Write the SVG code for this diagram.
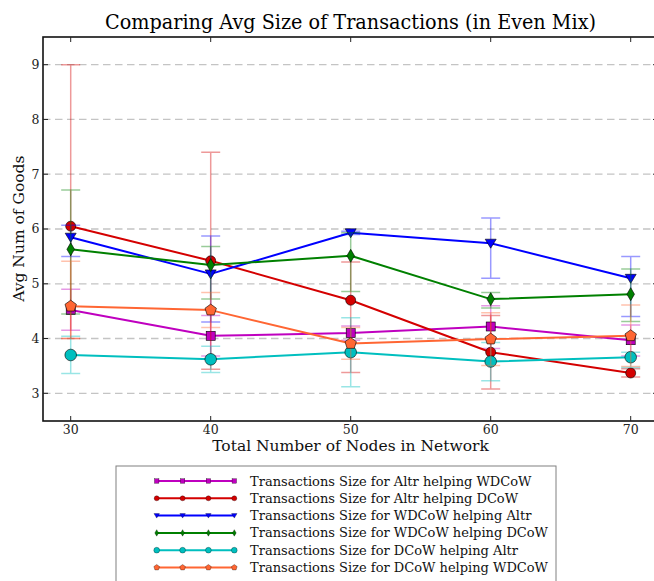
<svg xmlns="http://www.w3.org/2000/svg" xmlns:xlink="http://www.w3.org/1999/xlink" width="654" height="581" viewBox="0 0 654 581">
<style>
text{font-family:"DejaVu Serif","Liberation Serif",serif;fill:#222}
.title{font-size:20px;fill:#000}
.lab{font-size:15.5px;fill:#111}
.tick{font-size:12.5px}
.leg{font-size:13px;fill:#111}
.grid{stroke:#c4c4c4;stroke-width:1.3;stroke-dasharray:7.5,4.5;fill:none}
.spine{stroke:#111;stroke-width:1.6;fill:none}
.tk{stroke:#222;stroke-width:1;fill:none}
.ln{fill:none;stroke-width:2;stroke-linejoin:round}
.eb{fill:none;stroke-width:1.5;stroke-opacity:.4}
.mk{stroke:#000;stroke-width:.6}
.c-mag{stroke:#bf00bf}.f-mag{fill:#bf00bf}
.c-red{stroke:#d40000}.f-red{fill:#d40000}
.c-blu{stroke:#0000ff}.f-blu{fill:#0000ff}
.c-grn{stroke:#008000}.f-grn{fill:#008000}
.c-cyn{stroke:#00bfbf}.f-cyn{fill:#00bfbf}
.c-org{stroke:#ff6633}.f-org{fill:#ff6633}
</style>
<defs>
<rect id="sq" x="-4.5" y="-4.5" width="9" height="9"/>
<circle id="ci" r="5"/>
<polygon id="tri" points="-5.5,-4 5.5,-4 0,5"/>
<polygon id="dia" points="0,-6.5 3.8,0 0,6.5 -3.8,0"/>
<circle id="ci2" r="5.8"/>
<polygon id="pent" points="0,-6 5.71,-1.85 3.53,4.85 -3.53,4.85 -5.71,-1.85"/>
</defs>
<rect width="654" height="581" fill="#fff"/>
<text class="title" x="350.5" y="29" text-anchor="middle" textLength="491" lengthAdjust="spacingAndGlyphs">Comparing Avg Size of Transactions (in Even Mix)</text>
<g id="grid">
<path class="grid" d="M43,64.7H658M43,119.45H658M43,174.2H658M43,229H658M43,283.8H658M43,338.5H658M43,393.3H658"/>
</g>
<g id="series-altr-wdcow">
<path class="eb c-mag" d="M70.7,330.3V289.2M61.2,330.3h19M61.2,289.2h19M210.7,356.1V315.5M201.2,356.1h19M201.2,315.5h19M350.7,340.2V326M341.2,340.2h19M341.2,326h19M490.7,348.4V305.7M481.2,348.4h19M481.2,305.7h19M630.7,356.1V325M621.2,356.1h19M621.2,325h19"/>
<polyline class="ln c-mag" points="70.7,310.1 210.7,335.8 350.7,333.1 490.7,326.5 630.7,340.2"/>
<g class="mk f-mag"><use xlink:href="#sq" x="70.7" y="310.1"/><use xlink:href="#sq" x="210.7" y="335.8"/><use xlink:href="#sq" x="350.7" y="333.1"/><use xlink:href="#sq" x="490.7" y="326.5"/><use xlink:href="#sq" x="630.7" y="340.2"/></g>
</g>
<g id="series-altr-dcow">
<path class="eb c-red" d="M70.7,338.5V64.7M61.2,338.5h19M61.2,64.7h19M210.7,369.2V152.3M201.2,369.2h19M201.2,152.3h19M350.7,372.5V261.9M341.2,372.5h19M341.2,261.9h19M490.7,388.9V315.5M481.2,388.9h19M481.2,315.5h19M630.7,376.9V368.7M621.2,376.9h19M621.2,368.7h19"/>
<polyline class="ln c-red" points="70.7,226.2 210.7,260.8 350.7,300.2 490.7,352.2 630.7,373"/>
<g class="mk f-red"><use xlink:href="#ci" x="70.7" y="226.2"/><use xlink:href="#ci" x="210.7" y="260.8"/><use xlink:href="#ci" x="350.7" y="300.2"/><use xlink:href="#ci" x="490.7" y="352.2"/><use xlink:href="#ci" x="630.7" y="373"/></g>
</g>
<g id="series-wdcow-altr">
<path class="eb c-blu" d="M70.7,256.4V225.2M61.2,256.4h19M61.2,225.2h19M210.7,322.1V236.1M201.2,322.1h19M201.2,236.1h19M350.7,234.5V231.2M341.2,234.5h19M341.2,231.2h19M490.7,278.3V218M481.2,278.3h19M481.2,218h19M630.7,316.6V256.4M621.2,316.6h19M621.2,256.4h19"/>
<polyline class="ln c-blu" points="70.7,237.2 210.7,273.9 350.7,232.8 490.7,243.2 630.7,278.3"/>
<g class="mk f-blu"><use xlink:href="#tri" x="70.7" y="237.2"/><use xlink:href="#tri" x="210.7" y="273.9"/><use xlink:href="#tri" x="350.7" y="232.8"/><use xlink:href="#tri" x="490.7" y="243.2"/><use xlink:href="#tri" x="630.7" y="278.3"/></g>
</g>
<g id="series-wdcow-dcow">
<path class="eb c-grn" d="M70.7,313.9V190.1M61.2,313.9h19M61.2,190.1h19M210.7,299.1V246.5M201.2,299.1h19M201.2,246.5h19M350.7,291.5V232.8M341.2,291.5h19M341.2,232.8h19M490.7,307.9V292.5M481.2,307.9h19M481.2,292.5h19M630.7,321.5V269M621.2,321.5h19M621.2,269h19"/>
<polyline class="ln c-grn" points="70.7,249.3 210.7,265.1 350.7,255.8 490.7,299.1 630.7,294.2"/>
<g class="mk f-grn"><use xlink:href="#dia" x="70.7" y="249.3"/><use xlink:href="#dia" x="210.7" y="265.1"/><use xlink:href="#dia" x="350.7" y="255.8"/><use xlink:href="#dia" x="490.7" y="299.1"/><use xlink:href="#dia" x="630.7" y="294.2"/></g>
</g>
<g id="series-dcow-altr">
<path class="eb c-cyn" d="M70.7,373.6V336.3M61.2,373.6h19M61.2,336.3h19M210.7,372.5V346.2M201.2,372.5h19M201.2,346.2h19M350.7,386.7V317.7M341.2,386.7h19M341.2,317.7h19M490.7,380.7V342.4M481.2,380.7h19M481.2,342.4h19M630.7,367.6V352.2M621.2,367.6h19M621.2,352.2h19"/>
<polyline class="ln c-cyn" points="70.7,355 210.7,359.3 350.7,352.2 490.7,361.5 630.7,357.2"/>
<g class="mk f-cyn"><use xlink:href="#ci2" x="70.7" y="355"/><use xlink:href="#ci2" x="210.7" y="359.3"/><use xlink:href="#ci2" x="350.7" y="352.2"/><use xlink:href="#ci2" x="490.7" y="361.5"/><use xlink:href="#ci2" x="630.7" y="357.2"/></g>
</g>
<g id="series-dcow-wdcow">
<path class="eb c-org" d="M70.7,338.5V261.3M61.2,338.5h19M61.2,261.3h19M210.7,327.6V292.5M201.2,327.6h19M201.2,292.5h19M350.7,359.3V327.6M341.2,359.3h19M341.2,327.6h19M490.7,365.4V312.8M481.2,365.4h19M481.2,312.8h19M630.7,366.5V305.1M621.2,366.5h19M621.2,305.1h19"/>
<polyline class="ln c-org" points="70.7,306.2 210.7,310.1 350.7,343.5 490.7,339.1 630.7,335.8"/>
<g class="mk f-org"><use xlink:href="#pent" x="70.7" y="306.2"/><use xlink:href="#pent" x="210.7" y="310.1"/><use xlink:href="#pent" x="350.7" y="343.5"/><use xlink:href="#pent" x="490.7" y="339.1"/><use xlink:href="#pent" x="630.7" y="335.8"/></g>
</g>
<g id="axes">
<rect class="spine" x="43" y="37" width="615" height="384"/>
<path class="tk" d="M70.7,37v5M210.7,37v5M350.7,37v5M490.7,37v5M630.7,37v5M70.7,421v-5M210.7,421v-5M350.7,421v-5M490.7,421v-5M630.7,421v-5M43,64.7h5M43,119.45h5M43,174.2h5M43,229h5M43,283.8h5M43,338.5h5M43,393.3h5M658,64.7h-5M658,119.45h-5M658,174.2h-5M658,229h-5M658,283.8h-5M658,338.5h-5M658,393.3h-5"/>
<g class="tick" text-anchor="middle">
<text x="70.7" y="434">30</text><text x="210.7" y="434">40</text><text x="350.7" y="434">50</text><text x="490.7" y="434">60</text><text x="630.7" y="434">70</text>
</g>
<g class="tick" text-anchor="end">
<text x="39.5" y="69">9</text><text x="39.5" y="123.8">8</text><text x="39.5" y="178.5">7</text><text x="39.5" y="233.3">6</text><text x="39.5" y="288.1">5</text><text x="39.5" y="342.8">4</text><text x="39.5" y="397.6">3</text>
</g>
<text class="lab" x="350.5" y="451" text-anchor="middle">Total Number of Nodes in Network</text>
<text class="lab" transform="translate(24,228.7) rotate(-90)" text-anchor="middle">Avg Num of Goods</text>
</g>
<g id="legend">
<rect x="116" y="466" width="440" height="130" fill="#fff" stroke="#808080" stroke-width="1"/>
<g>
<path class="ln c-mag" d="M156.7,481H234.3"/>
<g class="mk f-mag"><use xlink:href="#sq" transform="translate(156.7,481) scale(.5)"/><use xlink:href="#sq" transform="translate(182.6,481) scale(.5)"/><use xlink:href="#sq" transform="translate(208.4,481) scale(.5)"/><use xlink:href="#sq" transform="translate(234.3,481) scale(.5)"/></g>
<text class="leg" x="250" y="485.5">Transactions Size for Altr helping WDCoW</text>
</g>
<g>
<path class="ln c-red" d="M156.7,498.3H234.3"/>
<g class="mk f-red"><use xlink:href="#ci" transform="translate(156.7,498.3) scale(.5)"/><use xlink:href="#ci" transform="translate(182.6,498.3) scale(.5)"/><use xlink:href="#ci" transform="translate(208.4,498.3) scale(.5)"/><use xlink:href="#ci" transform="translate(234.3,498.3) scale(.5)"/></g>
<text class="leg" x="250" y="502.8">Transactions Size for Altr helping DCoW</text>
</g>
<g>
<path class="ln c-blu" d="M156.7,515.6H234.3"/>
<g class="mk f-blu"><use xlink:href="#tri" transform="translate(156.7,515.6) scale(.5)"/><use xlink:href="#tri" transform="translate(182.6,515.6) scale(.5)"/><use xlink:href="#tri" transform="translate(208.4,515.6) scale(.5)"/><use xlink:href="#tri" transform="translate(234.3,515.6) scale(.5)"/></g>
<text class="leg" x="250" y="520.1">Transactions Size for WDCoW helping Altr</text>
</g>
<g>
<path class="ln c-grn" d="M156.7,532.9H234.3"/>
<g class="mk f-grn"><use xlink:href="#dia" transform="translate(156.7,532.9) scale(.5)"/><use xlink:href="#dia" transform="translate(182.6,532.9) scale(.5)"/><use xlink:href="#dia" transform="translate(208.4,532.9) scale(.5)"/><use xlink:href="#dia" transform="translate(234.3,532.9) scale(.5)"/></g>
<text class="leg" x="250" y="537.4">Transactions Size for WDCoW helping DCoW</text>
</g>
<g>
<path class="ln c-cyn" d="M156.7,550.2H234.3"/>
<g class="mk f-cyn"><use xlink:href="#ci2" transform="translate(156.7,550.2) scale(.5)"/><use xlink:href="#ci2" transform="translate(182.6,550.2) scale(.5)"/><use xlink:href="#ci2" transform="translate(208.4,550.2) scale(.5)"/><use xlink:href="#ci2" transform="translate(234.3,550.2) scale(.5)"/></g>
<text class="leg" x="250" y="554.7">Transactions Size for DCoW helping Altr</text>
</g>
<g>
<path class="ln c-org" d="M156.7,567.5H234.3"/>
<g class="mk f-org"><use xlink:href="#pent" transform="translate(156.7,567.5) scale(.5)"/><use xlink:href="#pent" transform="translate(182.6,567.5) scale(.5)"/><use xlink:href="#pent" transform="translate(208.4,567.5) scale(.5)"/><use xlink:href="#pent" transform="translate(234.3,567.5) scale(.5)"/></g>
<text class="leg" x="250" y="572">Transactions Size for DCoW helping WDCoW</text>
</g>
</g>
</svg>
